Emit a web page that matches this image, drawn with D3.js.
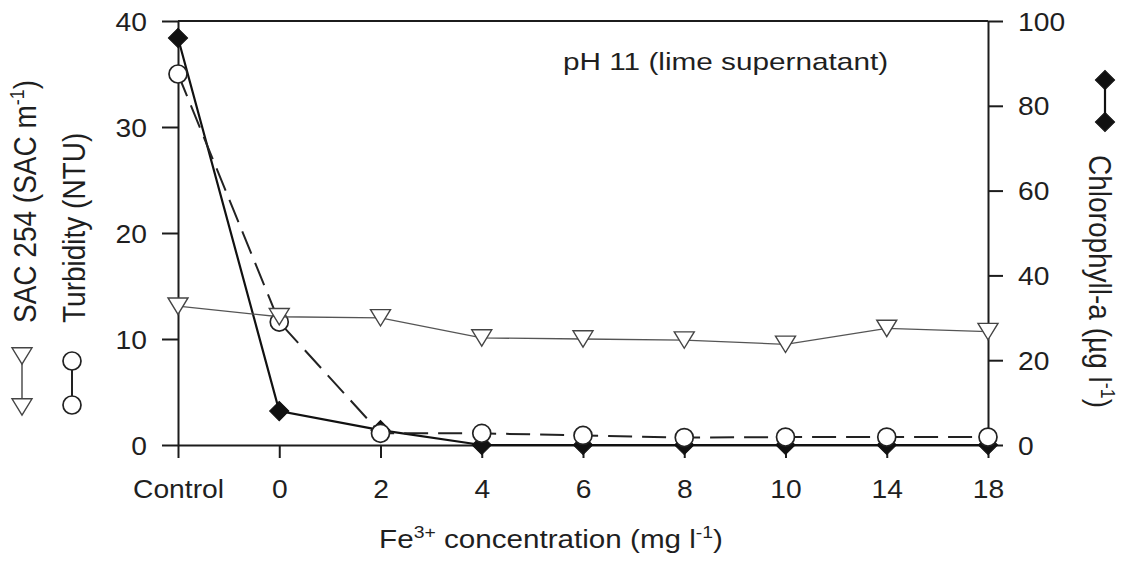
<!DOCTYPE html>
<html>
<head>
<meta charset="utf-8">
<script src="https://cdn.jsdelivr.net/npm/d3@7"></script>
<style>
  body { margin: 0; background: #fff; }
  svg { display: block; }
  text { font-family: "Liberation Sans", Arial, Helvetica, sans-serif; fill: #1f1f1f; }
</style>
</head>
<body>
<svg id="chart" width="1135" height="564"></svg>
<script>
// Fe3+ dose series, pH 11 (lime supernatant)
const categories = ["Control", "0", "2", "4", "6", "8", "10", "14", "18"];
const sacValues = [13.1, 12.1, 12.0, 10.1, 10.0, 9.9, 9.5, 11.0, 10.7];          // SAC m-1 (left axis)
const turbidityValues = [35, 11.6, 1.1, 1.1, 0.9, 0.7, 0.75, 0.75, 0.75];          // NTU (left axis)
const chlorophyllValues = [96, 8, 3.5, 0, 0, 0, 0, 0, 0];                           // µg l-1 (right axis)
const leftTicks = [0, 10, 20, 30, 40];
const rightTicks = [0, 20, 40, 60, 80, 100];

const W = 1135, H = 564;
const margin = { top: 21, right: 147, bottom: 119, left: 178 };
const INK = "#1c1c1c";
const SX = 1.13;          // horizontal stretch applied to glyphs
const TICK_FONT = 25;

const svg = d3.select("#chart");

const x = d3.scalePoint().domain(categories).range([margin.left, W - margin.right]);
const yL = d3.scaleLinear().domain([0, 40]).range([H - margin.bottom, margin.top]);
const yR = d3.scaleLinear().domain([0, 100]).range([H - margin.bottom, margin.top]);

// ---- axes ----
function styleAxis(g) {
  g.attr("font-family", null).attr("font-size", null);
  g.selectAll(".domain, .tick line").attr("stroke", INK).attr("stroke-width", 2);
  g.selectAll(".tick text").attr("font-size", TICK_FONT).attr("transform", `scale(${SX},1)`);
}

const gL = svg.append("g")
  .attr("transform", `translate(${margin.left},0)`)
  .call(d3.axisLeft(yL).tickValues(leftTicks).tickSize(16).tickSizeOuter(0));
styleAxis(gL);
gL.selectAll(".tick text").attr("x", -31 / SX).attr("dy", "0.36em");

const gR = svg.append("g")
  .attr("transform", `translate(${W - margin.right},0)`)
  .call(d3.axisRight(yR).tickValues(rightTicks).tickSize(15).tickSizeOuter(0));
styleAxis(gR);
gR.selectAll(".tick text").attr("x", 30 / SX).attr("dy", "0.36em");

const gB = svg.append("g")
  .attr("transform", `translate(0,${yL(0)})`)
  .call(d3.axisBottom(x).tickSize(13).tickSizeOuter(0));
styleAxis(gB);
gB.selectAll(".tick text").attr("y", 53).attr("dy", 0);

// top frame
svg.append("line")
  .attr("x1", x.range()[0]).attr("x2", x.range()[1])
  .attr("y1", yL(40)).attr("y2", yL(40))
  .attr("stroke", INK).attr("stroke-width", 2);

// ---- symbols ----
const downTriangle = {
  draw(ctx, size) {
    const w = Math.sqrt(size), h = w * 0.82;
    ctx.moveTo(-w / 2, -h / 2);
    ctx.lineTo(w / 2, -h / 2);
    ctx.lineTo(0, h / 2);
    ctx.closePath();
  }
};
const triPath = d3.symbol().type(downTriangle).size(20 * 20)();
const circPath = d3.symbol().type(d3.symbolCircle).size(Math.PI * 9 * 9)();
const diamPath = d3.symbol().type(d3.symbolSquare).size(185)();

const lineFor = (scale) => d3.line().x((d, i) => x(categories[i])).y(d => scale(d));

// chlorophyll-a
svg.append("path").datum(chlorophyllValues)
  .attr("d", lineFor(yR)).attr("fill", "none")
  .attr("stroke", "#111").attr("stroke-width", 2.2);
svg.append("g").selectAll("path").data(chlorophyllValues).join("path")
  .attr("d", diamPath)
  .attr("transform", (d, i) => `translate(${x(categories[i])},${yR(d)}) rotate(45)`)
  .attr("fill", "#111").attr("stroke", "#111").attr("stroke-width", 1);

// turbidity
svg.append("path").datum(turbidityValues)
  .attr("d", lineFor(yL)).attr("fill", "none")
  .attr("stroke", "#222").attr("stroke-width", 2).attr("stroke-dasharray", "24,10");
svg.append("g").selectAll("path").data(turbidityValues).join("path")
  .attr("d", circPath)
  .attr("transform", (d, i) => `translate(${x(categories[i])},${yL(d)})`)
  .attr("fill", "#fff").attr("stroke", "#222").attr("stroke-width", 1.7);

// SAC 254
svg.append("path").datum(sacValues)
  .attr("d", lineFor(yL)).attr("fill", "none")
  .attr("stroke", "#555").attr("stroke-width", 1.3);
svg.append("g").selectAll("path").data(sacValues).join("path")
  .attr("d", triPath)
  .attr("transform", (d, i) => `translate(${x(categories[i])},${yL(d)})`)
  .attr("fill", "#fff").attr("stroke", "#444").attr("stroke-width", 1.4);

// ---- titles ----
const TITLE_FONT = 28;

svg.append("text")
  .attr("transform", `translate(563,70) scale(1.24,1)`)
  .attr("font-size", 24)
  .text("pH 11 (lime supernatant)");

const xt = svg.append("text")
  .attr("transform", `translate(551,548) scale(1.14,1)`)
  .attr("text-anchor", "middle").attr("font-size", 26);
xt.append("tspan").text("Fe");
xt.append("tspan").attr("font-size", 17).attr("dy", -10).text("3+");
xt.append("tspan").attr("dy", 10).text(" concentration (mg l");
xt.append("tspan").attr("font-size", 17).attr("dy", -10).text("-1");
xt.append("tspan").attr("dy", 10).text(")");

function rotatedTitle(tx, ty, angle, parts) {
  const t = svg.append("text")
    .attr("transform", `translate(${tx},${ty}) scale(1.12,1) rotate(${angle})`)
    .attr("font-size", TITLE_FONT);
  parts.forEach(([str, sup], i) => {
    const prevSup = i > 0 && parts[i - 1][1];
    t.append("tspan")
      .attr("font-size", sup ? 18 : TITLE_FONT)
      .attr("dy", sup ? -11 : (prevSup ? 11 : 0))
      .text(str);
  });
  return t;
}

rotatedTitle(36, 323, -90, [["SAC 254 (SAC m", false], ["-1", true], [")", false]]);
rotatedTitle(85, 323, -90, [["Turbidity (NTU)", false]]);
rotatedTitle(1089, 155, 90, [["Chlorophyll-a (µg l", false], ["-1", true], [")", false]]);

// ---- series keys next to the axis titles ----
const keyL = svg.append("g");
keyL.append("line").attr("x1", 22).attr("x2", 22).attr("y1", 356).attr("y2", 407)
  .attr("stroke", "#444").attr("stroke-width", 1.4);
keyL.selectAll(".tri").data([356, 407]).join("path").attr("class", "tri")
  .attr("d", triPath).attr("transform", d => `translate(22,${d})`)
  .attr("fill", "#fff").attr("stroke", "#444").attr("stroke-width", 1.4);
keyL.append("line").attr("x1", 72).attr("x2", 72).attr("y1", 361).attr("y2", 405)
  .attr("stroke", "#222").attr("stroke-width", 2);
keyL.selectAll(".circ").data([361, 405]).join("path").attr("class", "circ")
  .attr("d", circPath).attr("transform", d => `translate(72,${d})`)
  .attr("fill", "#fff").attr("stroke", "#222").attr("stroke-width", 1.7);

const keyR = svg.append("g");
keyR.append("line").attr("x1", 1105).attr("x2", 1105).attr("y1", 80).attr("y2", 122)
  .attr("stroke", "#111").attr("stroke-width", 2.2);
keyR.selectAll("path").data([80, 122]).join("path")
  .attr("d", diamPath).attr("transform", d => `translate(1105,${d}) rotate(45)`)
  .attr("fill", "#111").attr("stroke", "#111");
</script>
</body>
</html>
